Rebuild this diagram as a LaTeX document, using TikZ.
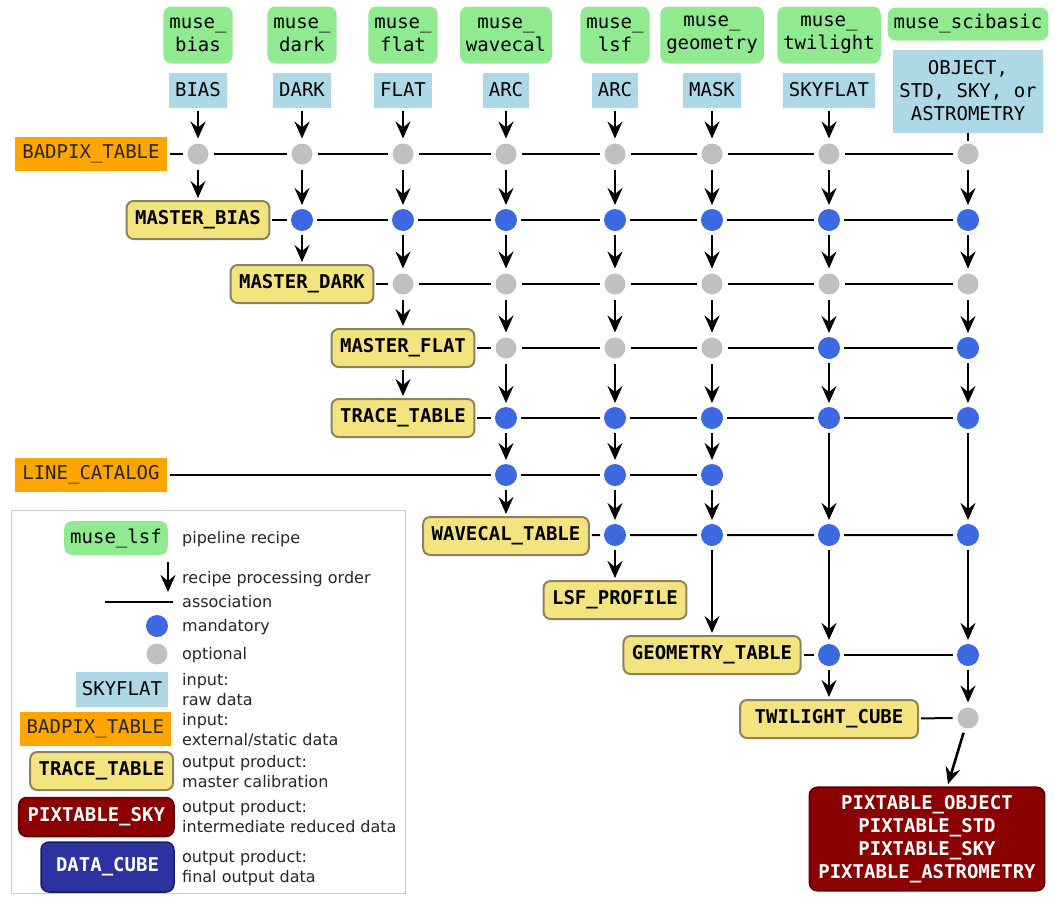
\documentclass[tikz,border=0pt]{standalone}
\usepackage{fontspec}
\setmainfont{DejaVu Sans}
\setmonofont{DejaVu Sans Mono}
\usetikzlibrary{arrows.meta}
\definecolor{recipegreen}{RGB}{144,234,144}
\definecolor{rawblue}{RGB}{173,216,230}
\definecolor{extorange}{RGB}{255,165,0}
\definecolor{calibyellow}{RGB}{243,228,128}
\definecolor{calibborder}{RGB}{140,130,95}
\definecolor{intermred}{RGB}{139,0,0}
\definecolor{finalblue}{RGB}{45,50,160}
\definecolor{dotblue}{RGB}{60,105,225}
\definecolor{dotgray}{RGB}{192,192,192}
\newcommand{\mufont}{\ttfamily\fontsize{19}{23}\selectfont}
\newcommand{\lgfont}{\rmfamily\fontsize{16}{20}\selectfont}

\begin{document}
\begin{tikzpicture}[x=1pt,y=-1pt,
	recipe/.style={fill=recipegreen,rounded corners=8pt,font=\mufont,align=center,minimum height=57pt,inner xsep=6pt,outer sep=3pt},
	rawdata/.style={fill=rawblue,font=\mufont,align=center,minimum height=35pt,inner xsep=6pt,outer sep=3pt},
	extdata/.style={fill=extorange,text=black!85,font=\mufont,minimum height=34pt,inner xsep=7pt,outer sep=3pt},
	calib/.style={draw=calibborder,line width=2pt,fill=calibyellow,rounded corners=7pt,font=\mufont\bfseries,minimum height=38pt,inner xsep=8.5pt,outer sep=3pt},
	interm/.style={draw=intermred!70!black,line width=1.5pt,fill=intermred,text=white,rounded corners=8pt,font=\mufont\bfseries,align=center,inner xsep=9pt,inner ysep=8pt,outer sep=3pt},
	cube/.style={draw=finalblue!60!black,line width=1.5pt,fill=finalblue,text=white,rounded corners=8pt,font=\mufont\bfseries,outer sep=3pt},
	mand/.style={circle,fill=dotblue,minimum size=22pt,inner sep=0pt,outer sep=4pt},
	opt/.style={circle,fill=dotgray,minimum size=21pt,inner sep=0pt,outer sep=5pt},
	order/.style={-{Stealth[length=17pt,width=15pt,inset=6pt]},line width=2.6pt},
	assoc/.style={line width=2pt},
	legtext/.style={font=\lgfont,text=black!85,anchor=west,align=left,inner sep=0pt}]
	\useasboundingbox (0,0) rectangle (1055,897);
	\node[recipe] (rbias) at (198,35) {muse\_\\bias};
	\node[recipe] (rdark) at (302,35) {muse\_\\dark};
	\node[recipe] (rflat) at (403,35) {muse\_\\flat};
	\node[recipe] (rwavecal) at (506,35) {muse\_\\wavecal};
	\node[recipe] (rlsf) at (615,35) {muse\_\\lsf};
	\node[recipe] (rgeometry) at (712,35) {muse\_\\geometry};
	\node[recipe] (rtwilight) at (829,35) {muse\_\\twilight};
	\node[recipe,minimum height=33pt] (rscibasic) at (968,24) {muse\_scibasic};
	\node[rawdata] (raw1) at (198,90) {BIAS};
	\node[rawdata] (raw2) at (302,90) {DARK};
	\node[rawdata] (raw3) at (403,90) {FLAT};
	\node[rawdata] (raw4) at (506,90) {ARC};
	\node[rawdata] (raw5) at (615,90) {ARC};
	\node[rawdata] (raw6) at (712,90) {MASK};
	\node[rawdata] (raw7) at (829,90) {SKYFLAT};
	\node[rawdata,minimum height=83pt] (raw8) at (968,91) {OBJECT,\\STD, SKY, or\\ASTROMETRY};
	\node[opt] (a1) at (198,154) {};
	\node[opt] (a2) at (302,154) {};
	\node[opt] (a3) at (403,154) {};
	\node[opt] (a4) at (506,154) {};
	\node[opt] (a5) at (615,154) {};
	\node[opt] (a6) at (712,154) {};
	\node[opt] (a7) at (829,154) {};
	\node[opt] (a8) at (968,154) {};
	\node[mand] (b2) at (302,220) {};
	\node[mand] (b3) at (403,220) {};
	\node[mand] (b4) at (506,220) {};
	\node[mand] (b5) at (615,220) {};
	\node[mand] (b6) at (712,220) {};
	\node[mand] (b7) at (829,220) {};
	\node[mand] (b8) at (968,220) {};
	\node[opt] (c3) at (403,284) {};
	\node[opt] (c4) at (506,284) {};
	\node[opt] (c5) at (615,284) {};
	\node[opt] (c6) at (712,284) {};
	\node[opt] (c7) at (829,284) {};
	\node[opt] (c8) at (968,284) {};
	\node[opt] (d4) at (506,348) {};
	\node[opt] (d5) at (615,348) {};
	\node[opt] (d6) at (712,348) {};
	\node[mand] (d7) at (829,348) {};
	\node[mand] (d8) at (968,348) {};
	\node[mand] (e4) at (506,418) {};
	\node[mand] (e5) at (615,418) {};
	\node[mand] (e6) at (712,418) {};
	\node[mand] (e7) at (829,418) {};
	\node[mand] (e8) at (968,418) {};
	\node[mand] (f4) at (506,475) {};
	\node[mand] (f5) at (615,475) {};
	\node[mand] (f6) at (712,475) {};
	\node[mand] (g5) at (615,535) {};
	\node[mand] (g6) at (712,535) {};
	\node[mand] (g7) at (829,535) {};
	\node[mand] (g8) at (968,535) {};
	\node[mand] (h7) at (829,655) {};
	\node[mand] (h8) at (968,655) {};
	\node[opt] (i8) at (968,718) {};
	\node[extdata] (badpix) at (91,154) {BADPIX\_TABLE};
	\node[calib] (mbias) at (198,220) {MASTER\_BIAS};
	\node[calib] (mdark) at (302,284) {MASTER\_DARK};
	\node[calib] (mflat) at (403,348) {MASTER\_FLAT};
	\node[calib] (trace) at (403,418) {TRACE\_TABLE};
	\node[extdata] (linecat) at (91,475) {LINE\_CATALOG};
	\node[calib] (wavecal) at (506,536) {WAVECAL\_TABLE};
	\node[calib] (lsfprof) at (615,600) {LSF\_PROFILE};
	\node[calib] (geotab) at (712,655) {GEOMETRY\_TABLE};
	\node[calib,minimum width=178pt] (twicube) at (829,719) {TWILIGHT\_CUBE};
	\node[interm] (pixtab) at (927,839) {PIXTABLE\_OBJECT\\PIXTABLE\_STD\\PIXTABLE\_SKY\\PIXTABLE\_ASTROMETRY};
	\draw[assoc] (badpix) -- (a1) -- (a2) -- (a3) -- (a4) -- (a5) -- (a6) -- (a7) -- (a8);
	\draw[assoc] (mbias) -- (b2) -- (b3) -- (b4) -- (b5) -- (b6) -- (b7) -- (b8);
	\draw[assoc] (mdark) -- (c3) -- (c4) -- (c5) -- (c6) -- (c7) -- (c8);
	\draw[assoc] (mflat) -- (d4) -- (d5) -- (d6) -- (d7) -- (d8);
	\draw[assoc] (trace) -- (e4) -- (e5) -- (e6) -- (e7) -- (e8);
	\draw[assoc] (linecat) -- (f4) -- (f5) -- (f6);
	\draw[assoc] (wavecal) -- (g5) -- (g6) -- (g7) -- (g8);
	\draw[assoc] (geotab) -- (h7) -- (h8);
	\draw[assoc] (twicube) -- (i8);
	\draw[assoc,line width=2.5pt,shorten <=-3pt,shorten >=-2pt] (raw8) -- (a8);
	\path[order] (raw1) edge (a1) (a1) edge (mbias);
	\path[order] (raw2) edge (a2) (a2) edge (b2) (b2) edge (mdark);
	\path[order] (raw3) edge (a3) (a3) edge (b3) (b3) edge (c3) (c3) edge (mflat) (mflat) edge (trace);
	\path[order] (raw4) edge (a4) (a4) edge (b4) (b4) edge (c4) (c4) edge (d4) (d4) edge (e4) (e4) edge (f4) (f4) edge (wavecal);
	\path[order] (raw5) edge (a5) (a5) edge (b5) (b5) edge (c5) (c5) edge (d5) (d5) edge (e5) (e5) edge (f5) (f5) edge (g5) (g5) edge (lsfprof);
	\path[order] (raw6) edge (a6) (a6) edge (b6) (b6) edge (c6) (c6) edge (d6) (d6) edge (e6) (e6) edge (f6) (f6) edge (g6) (g6) edge (geotab);
	\path[order] (raw7) edge (a7) (a7) edge (b7) (b7) edge (c7) (c7) edge (d7) (d7) edge (e7) (e7) edge (g7) (g7) edge (h7) (h7) edge (twicube);
	\path[order] (a8) edge (b8) (b8) edge (c8) (c8) edge (d8) (d8) edge (e8) (e8) edge (g8) (g8) edge (h8) (h8) edge (i8);
	\draw[order] (i8) -- ([xshift=21pt]pixtab.north);
	\draw[black!20,line width=1pt] (11,510) rectangle (405,893);
	\node[recipe,minimum height=34pt] (lrecipe) at (116,538) {muse\_lsf};
	\node[legtext] (trecipe) at (182,539) {pipeline recipe};
	\coordinate (lordtop) at (168,562);
	\coordinate (lordbot) at (168,592);
	\draw[order] (lordtop) -- (lordbot);
	\node[legtext] (torder) at (182,579) {recipe processing order};
	\coordinate (lassl) at (105,602);
	\coordinate (lassr) at (173,602);
	\draw[assoc] (lassl) -- (lassr);
	\node[legtext] (tassoc) at (182,602) {association};
	\node[mand] (lmand) at (157,626) {};
	\node[legtext] (tmand) at (182,627) {mandatory};
	\node[opt] (lopt) at (157,654) {};
	\node[legtext] (topt) at (182,655) {optional};
	\node[rawdata,anchor=east] (lraw) at (171,689) {SKYFLAT};
	\node[legtext] (traw) at (182,690) {input:\\raw data};
	\node[extdata,anchor=east] (lext) at (174,729) {BADPIX\_TABLE};
	\node[legtext] (text) at (182,730) {input:\\external/static data};
	\node[calib,anchor=east] (lcalib) at (176,771) {TRACE\_TABLE};
	\node[legtext] (tcalib) at (182,772) {output product:\\master calibration};
	\node[interm,anchor=east,minimum height=39pt,inner ysep=4pt] (linterm) at (177,817) {PIXTABLE\_SKY};
	\node[legtext] (tinterm) at (182,817) {output product:\\intermediate reduced data};
	\node[cube,anchor=east,minimum width=133pt,minimum height=50pt] (lcube) at (177,867) {DATA\_CUBE};
	\node[legtext] (tcube) at (182,868) {output product:\\final output data};
\end{tikzpicture}
\end{document}
